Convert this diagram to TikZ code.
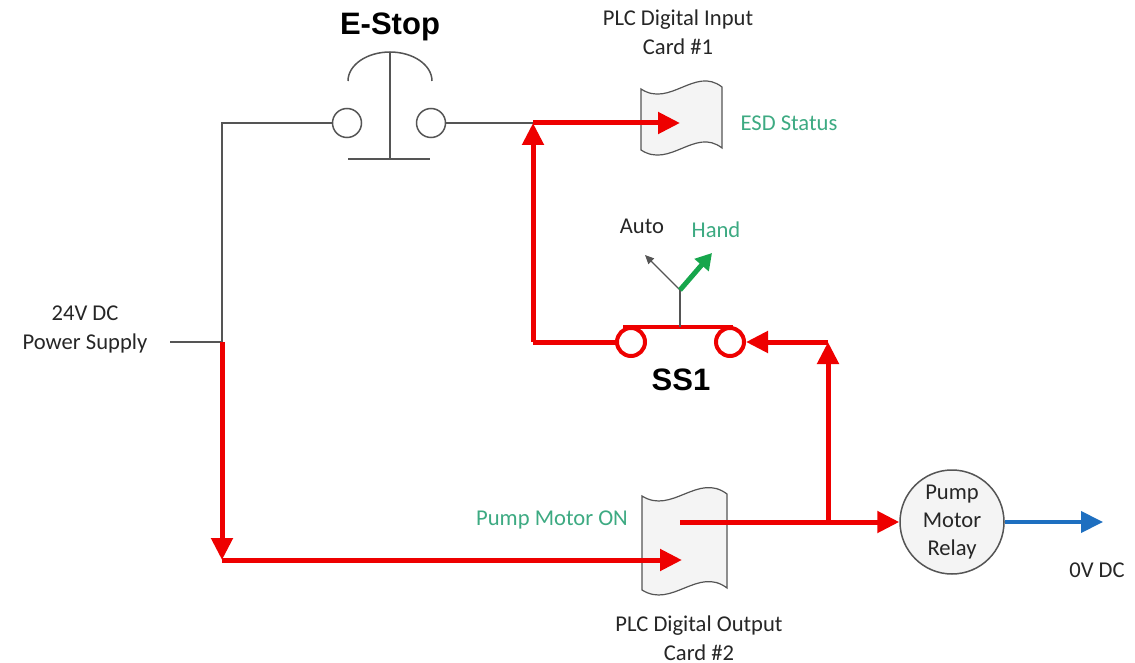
\documentclass[tikz,border=0pt]{standalone}
\usepackage{fontspec}
\setmainfont{Carlito}
\newfontfamily\arialfont{Liberation Sans}
\usetikzlibrary{arrows.meta}
\definecolor{wire}{HTML}{555555}
\definecolor{hot}{HTML}{EE0000}
\definecolor{txtgreen}{HTML}{3DAA82}
\definecolor{handgreen}{HTML}{16A64C}
\definecolor{zeroblue}{HTML}{1E6FC0}
\definecolor{cardfill}{HTML}{F4F4F4}
\definecolor{txt}{HTML}{262626}
\begin{document}
\begin{tikzpicture}[x=0.5pt,y=-0.5pt,
  lbl/.style={font=\fontsize{11.3}{14.5}\selectfont, text=txt, align=center, inner sep=0pt},
  glbl/.style={lbl, text=txtgreen},
  big/.style={font=\arialfont\bfseries\fontsize{15.5}{18}\selectfont, text=black, inner sep=0pt},
  wireline/.style={draw=wire, line width=0.75pt},
  redline/.style={draw=hot, line width=2.5pt},
  redarrow/.style={redline, -{Triangle[length=11pt,width=10.5pt]}},
  bluearrow/.style={draw=zeroblue, line width=2pt, -{Triangle[length=11pt,width=10.5pt]}},
  estopcontact/.style={circle, draw=wire, line width=0.75pt, fill=white, minimum size=14.5pt, inner sep=0pt},
  sscontact/.style={circle, draw=hot, line width=2pt, fill=white, minimum size=14pt, inner sep=0pt},
  card/.style={draw=wire, line width=0.6pt, fill=cardfill},
  relaystyle/.style={circle, draw=wire, line width=0.75pt, fill=cardfill, minimum size=52pt, inner sep=0pt, align=center, font=\fontsize{11.3}{14}\selectfont, text=txt}
]
\useasboundingbox[fill=white] (0,0) rectangle (1135,663);

% cards
\draw[card] (641,89) .. controls (670,108) and (695,66) .. (722,87) -- (722,148)
  .. controls (695,127) and (670,169) .. (641,150) -- cycle;
\draw[card] (642,496) .. controls (672,515) and (698,472) .. (727,494) -- (727,588)
  .. controls (698,566) and (672,609) .. (642,590) -- cycle;

% labels
\node[big] (estoplbl) at (390,27) {E-Stop};
\node[lbl] (inlbl) at (678,32) {PLC Digital Input\\Card \#1};
\node[glbl] (esd) at (789,123) {ESD Status};
\node[lbl] (auto) at (642,226) {Auto};
\node[glbl] (hand) at (716,230) {Hand};
\node[big] (sslbl) at (681,380) {SS1};
\node[lbl] (pslbl) at (85,329) {24V DC\\Power Supply};
\node[glbl] (pmon) at (552,520) {Pump Motor ON};
\node[lbl] (outlbl) at (699,638) {PLC Digital Output\\Card \#2};
\node[lbl] (zerolbl) at (1097,570) {0V DC};

% coordinates
\coordinate (ps) at (170,342);
\coordinate (j0) at (222,123);
\coordinate (j1) at (222,342);
\coordinate (j2) at (533,123);
\coordinate (j3) at (533,342);
\coordinate (j4) at (222,560);
\coordinate (j5) at (828,522);
\coordinate (j6) at (828,342);
\coordinate (inTip) at (680,123);
\coordinate (outTip) at (682,560);
\coordinate (outStart) at (680,522);
\coordinate (zeroTip) at (1103,522);
\coordinate (ssTop) at (680,327);
\coordinate (ssPivot) at (680,290);
\coordinate (autoTip) at (645,255);
\coordinate (handTip) at (712,253);

% black wiring
\draw[wireline] (ps) -- (j1) -- (j0) -- (347,123);
\draw[wireline] (431,123) -- (j2);

% E-Stop
\node[estopcontact] (el) at (347,123) {};
\node[estopcontact] (er) at (431,123) {};
\draw[wireline] (390,52) -- (390,159);
\draw[wireline] (348,159) -- (430,159);
\draw[wireline] (348,81) arc[start angle=180, end angle=360, x radius=42, y radius=29];

% red wiring
\draw[redline] (631,342) -- (j3);
\draw[redarrow] (j3) -- (j2);
\draw[redarrow] (j2) -- (inTip);
\draw[redarrow] (j1) -- (j4);
\draw[redarrow] (j4) -- (outTip);
\draw[redline] (outStart) -- (j5);
\node[relaystyle] (relay) at (952,522) {Pump\\Motor\\Relay};
\draw[redarrow] (j5) -- (relay.west);
\draw[redarrow] (j5) -- (j6);
\draw[redline] (j6) -- (760,342);

% SS1
\draw[draw=hot, line width=2pt] (623,327) -- (733,327);
\node[sscontact] (sl) at (631,342) {};
\node[sscontact] (sr) at (730,342) {};
\draw[redarrow] (j6) -- (sr.east);
\draw[draw=wire, line width=0.6pt] (ssTop) -- (ssPivot);
\draw[draw=wire, line width=0.6pt, -{Triangle[length=4.5pt,width=4pt]}] (ssPivot) -- (autoTip);
\draw[draw=handgreen, line width=2.5pt, -{Triangle[length=8pt,width=9pt]}] (ssPivot) -- (handTip);

% blue
\draw[bluearrow] (relay.east) -- (zeroTip);
\end{tikzpicture}
\end{document}
